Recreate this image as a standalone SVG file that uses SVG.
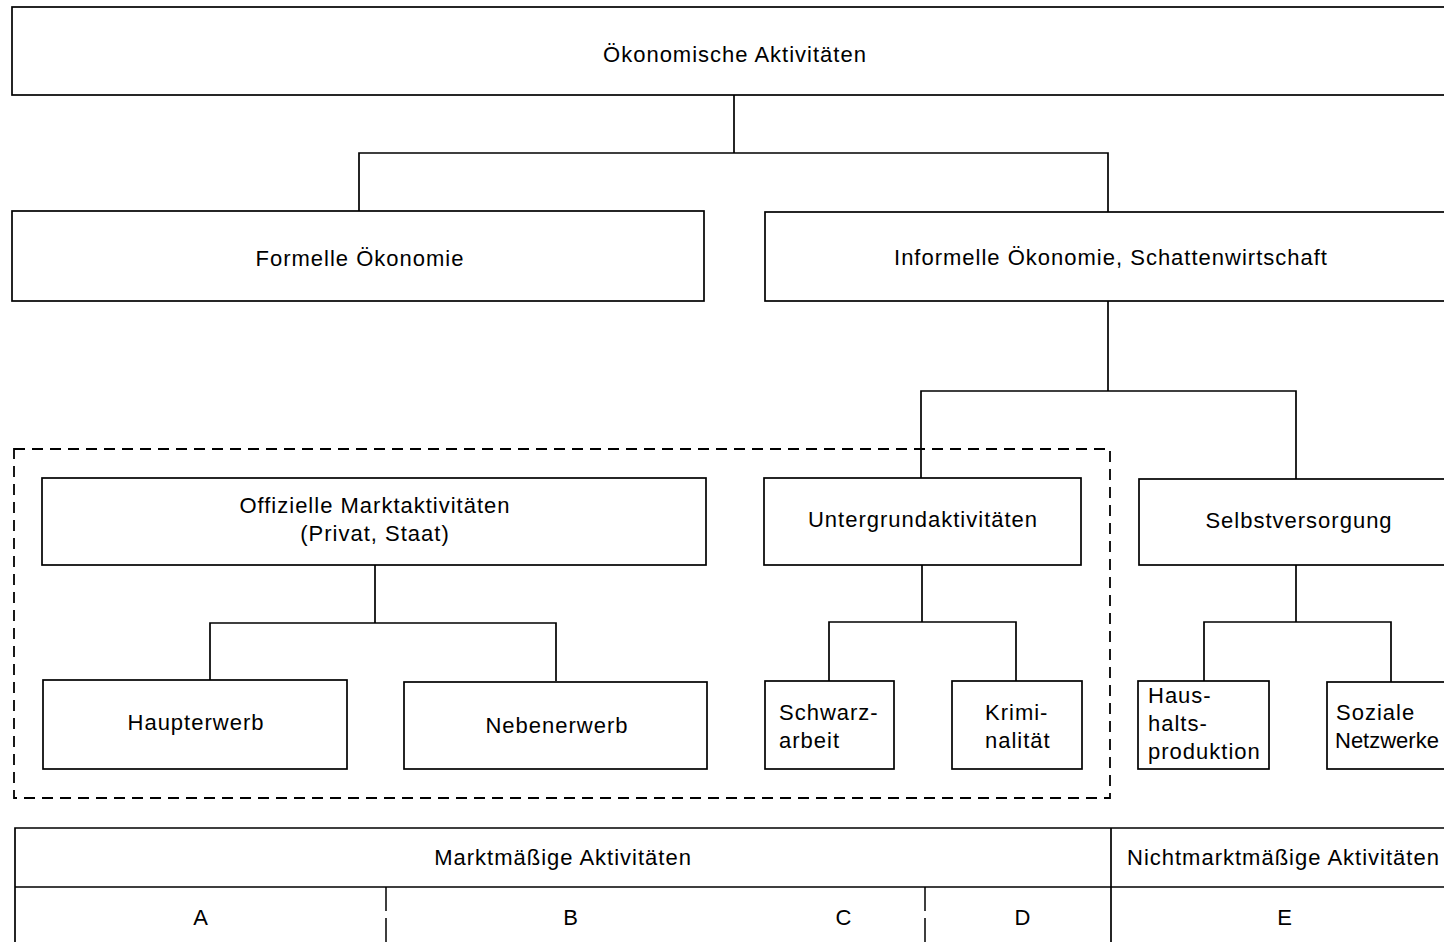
<svg xmlns="http://www.w3.org/2000/svg" width="1444" height="942" viewBox="0 0 1444 942">
<style>
.box{fill:#fff;stroke:#000;stroke-width:1.7}
.t{font-family:"Liberation Sans",Arial,sans-serif;font-size:22px;letter-spacing:1px;fill:#000}
.m{text-anchor:middle}
.conn{fill:none;stroke:#000;stroke-width:1.7}
.dash{fill:none;stroke:#000;stroke-width:1.8;stroke-dasharray:11 7}
.tbl{fill:none;stroke:#000;stroke-width:1.7}
.tbld{fill:none;stroke:#000;stroke-width:1.5;stroke-dasharray:24 7}
</style>
<rect width="1444" height="942" fill="#fff"/>
<g id="connectors">
<path class="conn" d="M734 95V153M359 211V153H1108V212"/>
<path class="conn" d="M1108 301V391M921 478V391H1296V479"/>
<path class="conn" d="M375 565V623M210 680V623H556V681"/>
<path class="conn" d="M922 565V622M829 681V622H1016V681"/>
<path class="conn" d="M1296 565V622M1204 681V622H1391V682"/>
</g>
<g id="group-market">
<rect class="dash" x="14" y="449" width="1096" height="349"/>
</g>
<g id="n-oekonomische">
<rect class="box" x="12" y="7" width="1450" height="88"/>
<text class="t m" x="735" y="62">Ökonomische Aktivitäten</text>
</g>
<g id="n-formell">
<rect class="box" x="12" y="211" width="692" height="90"/>
<text class="t m" x="360" y="266">Formelle Ökonomie</text>
</g>
<g id="n-informell">
<rect class="box" x="765" y="212" width="697" height="89"/>
<text class="t m" x="1111" y="265">Informelle Ökonomie, Schattenwirtschaft</text>
</g>
<g id="n-offiziell">
<rect class="box" x="42" y="478" width="664" height="87"/>
<text class="t m" x="375" y="513">Offizielle Marktaktivitäten</text>
<text class="t m" x="375" y="541">(Privat, Staat)</text>
</g>
<g id="n-untergrund">
<rect class="box" x="764" y="478" width="317" height="87"/>
<text class="t m" x="923" y="527">Untergrundaktivitäten</text>
</g>
<g id="n-selbst">
<rect class="box" x="1139" y="479" width="323" height="86"/>
<text class="t m" x="1299" y="528">Selbstversorgung</text>
</g>
<g id="n-haupterwerb">
<rect class="box" x="43" y="680" width="304" height="89"/>
<text class="t m" x="196" y="730">Haupterwerb</text>
</g>
<g id="n-nebenerwerb">
<rect class="box" x="404" y="682" width="303" height="87"/>
<text class="t m" x="557" y="733">Nebenerwerb</text>
</g>
<g id="n-schwarzarbeit">
<rect class="box" x="765" y="681" width="129" height="88"/>
<text class="t" x="779" y="720">Schwarz-</text>
<text class="t" x="779" y="748">arbeit</text>
</g>
<g id="n-kriminalitaet">
<rect class="box" x="952" y="681" width="130" height="88"/>
<text class="t" x="985" y="720">Krimi-</text>
<text class="t" x="985" y="748">nalität</text>
</g>
<g id="n-haushalt">
<rect class="box" x="1138" y="681" width="131" height="88"/>
<text class="t" x="1148" y="703">Haus-</text>
<text class="t" x="1148" y="731">halts-</text>
<text class="t" x="1148" y="759">produktion</text>
</g>
<g id="n-sozial">
<rect class="box" x="1327" y="682" width="135" height="87"/>
<text class="t" x="1336" y="720">Soziale</text>
<text class="t" x="1335" y="748" style="letter-spacing:0">Netzwerke</text>
</g>
<g id="table">
<path class="tbl" d="M15 950V828H1460M15 887H1460M1111 828V950"/>
<path class="tbld" d="M386 887V950M925 887V950"/>
<text class="t m" x="563" y="865">Marktmäßige Aktivitäten</text>
<text class="t" x="1127" y="865">Nichtmarktmäßige Aktivitäten</text>
<text class="t m" x="201" y="925">A</text>
<text class="t m" x="571" y="925">B</text>
<text class="t m" x="844" y="925">C</text>
<text class="t m" x="1023" y="925">D</text>
<text class="t m" x="1285" y="925">E</text>
</g>
</svg>
